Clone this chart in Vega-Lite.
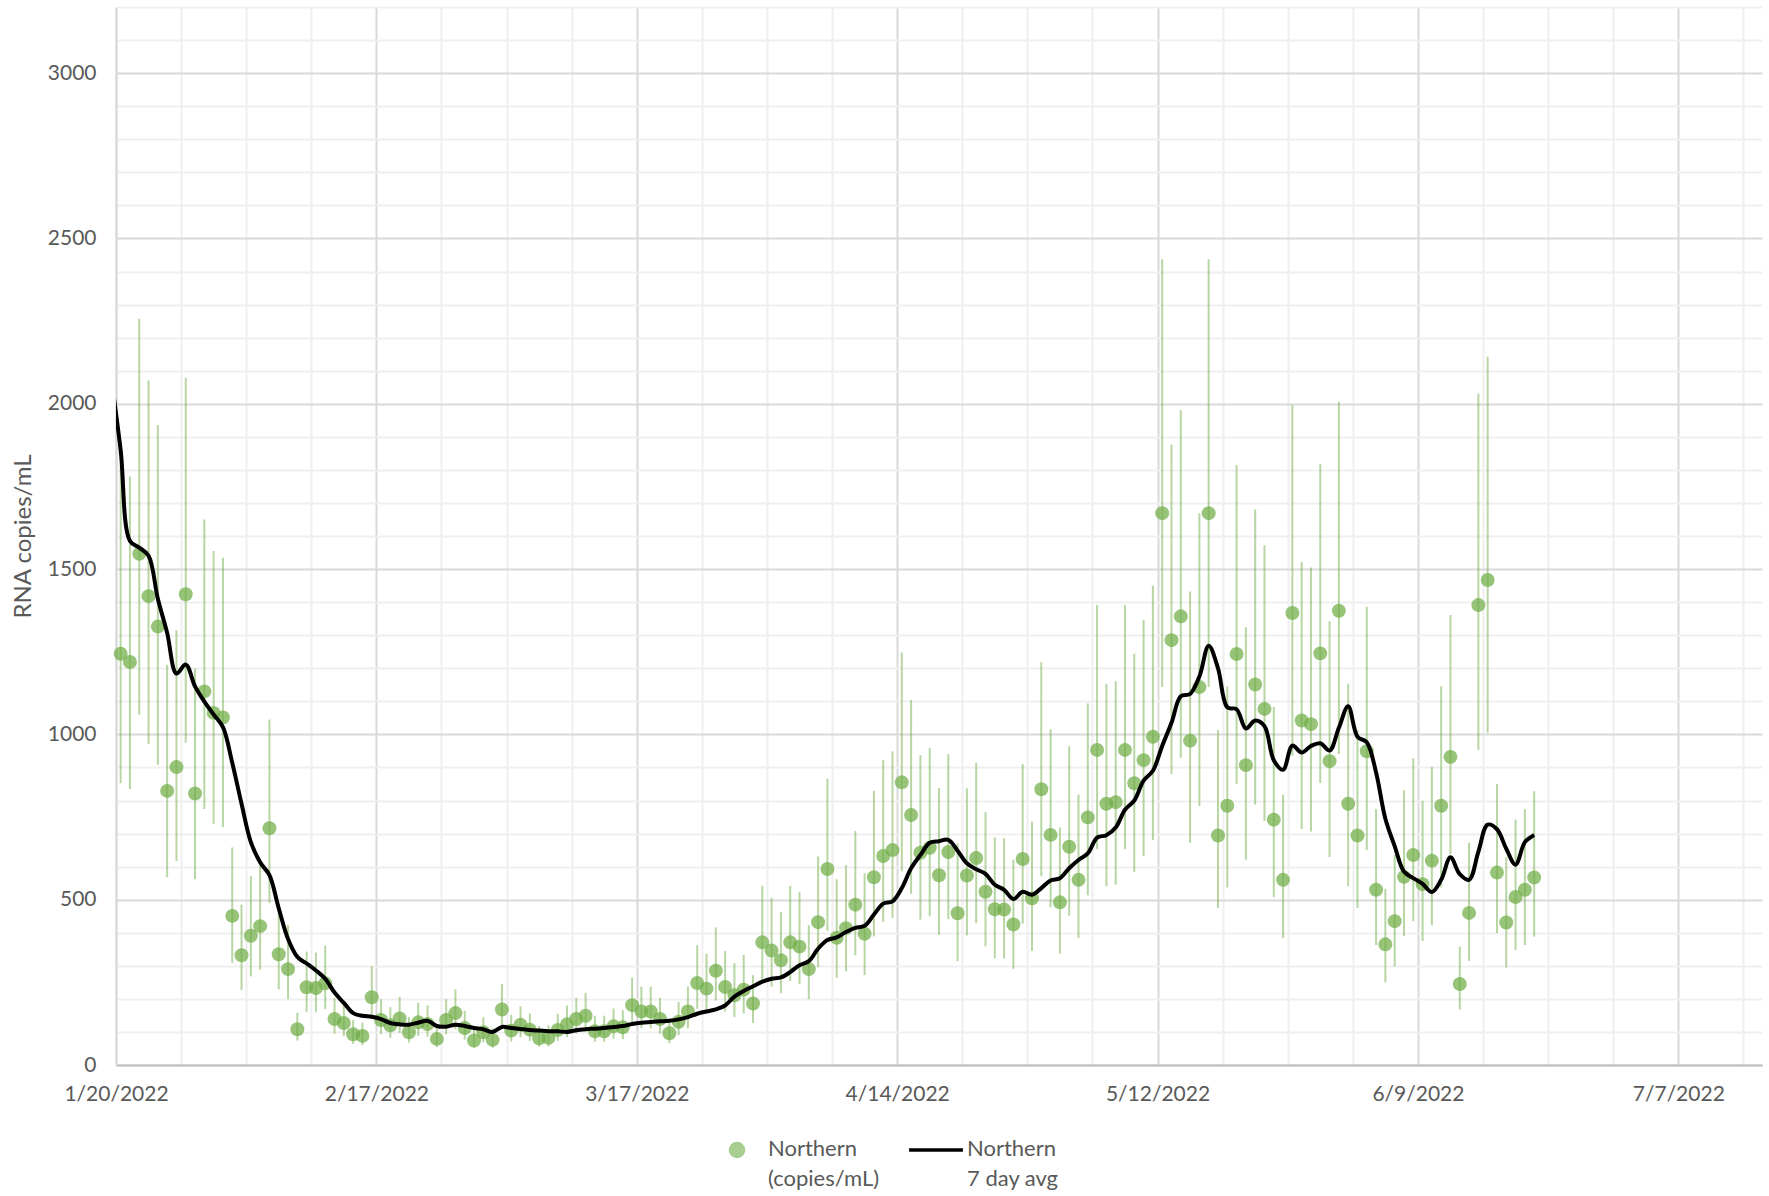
{
  "$schema": "https://vega.github.io/schema/vega-lite/v6.json",
  "width": 1646,
  "height": 1058,
  "autosize": "none",
  "padding": {"left": 116, "top": 7, "right": 7, "bottom": 131},
  "background": "white",
  "config": {"view": {"stroke": null}, "font": "Lato"},
  "data": {"values": [
    {"d":"2022-01-19T12:00","a":2075},
    {"d":"2022-01-20T12:00","v":1244,"lo":852,"hi":1816,"a":1860},
    {"d":"2022-01-21T12:00","v":1219,"lo":835,"hi":1780,"a":1585},
    {"d":"2022-01-22T12:00","v":1546,"lo":1059,"hi":2257,"a":1565},
    {"d":"2022-01-23T12:00","v":1418,"lo":971,"hi":2070,"a":1540},
    {"d":"2022-01-24T12:00","v":1326,"lo":908,"hi":1936,"a":1410},
    {"d":"2022-01-25T12:00","v":829,"lo":568,"hi":1210,"a":1307},
    {"d":"2022-01-26T12:00","v":901,"lo":617,"hi":1315,"a":1184},
    {"d":"2022-01-27T12:00","v":1424,"lo":975,"hi":2079,"a":1211},
    {"d":"2022-01-28T12:00","v":821,"lo":562,"hi":1199,"a":1145},
    {"d":"2022-01-29T12:00","v":1130,"lo":774,"hi":1650,"a":1099},
    {"d":"2022-01-30T12:00","v":1065,"lo":729,"hi":1555,"a":1060},
    {"d":"2022-01-31T12:00","v":1051,"lo":720,"hi":1534,"a":1022},
    {"d":"2022-02-01T12:00","v":451,"lo":309,"hi":658,"a":914},
    {"d":"2022-02-02T12:00","v":332,"lo":227,"hi":485,"a":790},
    {"d":"2022-02-03T12:00","v":391,"lo":268,"hi":571,"a":674},
    {"d":"2022-02-04T12:00","v":420,"lo":288,"hi":613,"a":613},
    {"d":"2022-02-05T12:00","v":716,"lo":490,"hi":1045,"a":574},
    {"d":"2022-02-06T12:00","v":335,"lo":229,"hi":489,"a":474},
    {"d":"2022-02-07T12:00","v":290,"lo":199,"hi":423,"a":381},
    {"d":"2022-02-08T12:00","v":108,"lo":74,"hi":158,"a":327},
    {"d":"2022-02-09T12:00","v":235,"lo":161,"hi":343,"a":307},
    {"d":"2022-02-10T12:00","v":233,"lo":160,"hi":340,"a":286},
    {"d":"2022-02-11T12:00","v":247,"lo":169,"hi":361,"a":261},
    {"d":"2022-02-12T12:00","v":139,"lo":95,"hi":203,"a":219},
    {"d":"2022-02-13T12:00","v":127,"lo":87,"hi":185,"a":188},
    {"d":"2022-02-14T12:00","v":93,"lo":64,"hi":136,"a":157},
    {"d":"2022-02-15T12:00","v":88,"lo":60,"hi":128,"a":149},
    {"d":"2022-02-16T12:00","v":205,"lo":140,"hi":299,"a":146},
    {"d":"2022-02-17T12:00","v":136,"lo":93,"hi":199,"a":139},
    {"d":"2022-02-18T12:00","v":120,"lo":82,"hi":175,"a":127},
    {"d":"2022-02-19T12:00","v":141,"lo":97,"hi":206,"a":123},
    {"d":"2022-02-20T12:00","v":99,"lo":68,"hi":145,"a":122},
    {"d":"2022-02-21T12:00","v":129,"lo":88,"hi":188,"a":128},
    {"d":"2022-02-22T12:00","v":124,"lo":85,"hi":181,"a":134},
    {"d":"2022-02-23T12:00","v":79,"lo":54,"hi":115,"a":118},
    {"d":"2022-02-24T12:00","v":136,"lo":93,"hi":199,"a":116},
    {"d":"2022-02-25T12:00","v":157,"lo":108,"hi":229,"a":122},
    {"d":"2022-02-26T12:00","v":112,"lo":77,"hi":164,"a":118},
    {"d":"2022-02-27T12:00","v":74,"lo":51,"hi":108,"a":112},
    {"d":"2022-02-28T12:00","v":99,"lo":68,"hi":145,"a":108},
    {"d":"2022-03-01T12:00","v":76,"lo":52,"hi":111,"a":100},
    {"d":"2022-03-02T12:00","v":168,"lo":115,"hi":245,"a":115},
    {"d":"2022-03-03T12:00","v":104,"lo":71,"hi":152,"a":112},
    {"d":"2022-03-04T12:00","v":122,"lo":84,"hi":178,"a":109},
    {"d":"2022-03-05T12:00","v":107,"lo":73,"hi":156,"a":106},
    {"d":"2022-03-06T12:00","v":81,"lo":55,"hi":118,"a":104},
    {"d":"2022-03-07T12:00","v":82,"lo":56,"hi":120,"a":102},
    {"d":"2022-03-08T12:00","v":106,"lo":73,"hi":155,"a":102},
    {"d":"2022-03-09T12:00","v":123,"lo":84,"hi":180,"a":100},
    {"d":"2022-03-10T12:00","v":139,"lo":95,"hi":203,"a":105},
    {"d":"2022-03-11T12:00","v":149,"lo":102,"hi":218,"a":108},
    {"d":"2022-03-12T12:00","v":102,"lo":70,"hi":149,"a":110},
    {"d":"2022-03-13T12:00","v":102,"lo":70,"hi":149,"a":112},
    {"d":"2022-03-14T12:00","v":117,"lo":80,"hi":171,"a":115},
    {"d":"2022-03-15T12:00","v":114,"lo":78,"hi":166,"a":118},
    {"d":"2022-03-16T12:00","v":181,"lo":124,"hi":264,"a":124},
    {"d":"2022-03-17T12:00","v":162,"lo":111,"hi":237,"a":128},
    {"d":"2022-03-18T12:00","v":162,"lo":111,"hi":237,"a":130},
    {"d":"2022-03-19T12:00","v":139,"lo":95,"hi":203,"a":132},
    {"d":"2022-03-20T12:00","v":96,"lo":66,"hi":140,"a":134},
    {"d":"2022-03-21T12:00","v":131,"lo":90,"hi":191,"a":138},
    {"d":"2022-03-22T12:00","v":162,"lo":111,"hi":237,"a":145},
    {"d":"2022-03-23T12:00","v":248,"lo":170,"hi":362,"a":155},
    {"d":"2022-03-24T12:00","v":231,"lo":158,"hi":337,"a":162},
    {"d":"2022-03-25T12:00","v":285,"lo":195,"hi":416,"a":168},
    {"d":"2022-03-26T12:00","v":236,"lo":162,"hi":345,"a":180},
    {"d":"2022-03-27T12:00","v":211,"lo":145,"hi":308,"a":207},
    {"d":"2022-03-28T12:00","v":228,"lo":156,"hi":333,"a":224},
    {"d":"2022-03-29T12:00","v":186,"lo":127,"hi":272,"a":238},
    {"d":"2022-03-30T12:00","v":371,"lo":254,"hi":542,"a":252},
    {"d":"2022-03-31T12:00","v":346,"lo":237,"hi":505,"a":261},
    {"d":"2022-04-01T12:00","v":317,"lo":217,"hi":463,"a":265},
    {"d":"2022-04-02T12:00","v":371,"lo":254,"hi":542,"a":281},
    {"d":"2022-04-03T12:00","v":358,"lo":245,"hi":523,"a":302},
    {"d":"2022-04-04T12:00","v":290,"lo":199,"hi":423,"a":314},
    {"d":"2022-04-05T12:00","v":432,"lo":296,"hi":631,"a":352},
    {"d":"2022-04-06T12:00","v":593,"lo":406,"hi":866,"a":378},
    {"d":"2022-04-07T12:00","v":385,"lo":264,"hi":562,"a":386},
    {"d":"2022-04-08T12:00","v":414,"lo":284,"hi":604,"a":402},
    {"d":"2022-04-09T12:00","v":485,"lo":332,"hi":708,"a":415},
    {"d":"2022-04-10T12:00","v":397,"lo":272,"hi":580,"a":421},
    {"d":"2022-04-11T12:00","v":568,"lo":389,"hi":829,"a":455},
    {"d":"2022-04-12T12:00","v":632,"lo":433,"hi":923,"a":488},
    {"d":"2022-04-13T12:00","v":650,"lo":445,"hi":949,"a":495},
    {"d":"2022-04-14T12:00","v":855,"lo":586,"hi":1248,"a":535},
    {"d":"2022-04-15T12:00","v":756,"lo":518,"hi":1104,"a":595},
    {"d":"2022-04-16T12:00","v":642,"lo":440,"hi":937,"a":635},
    {"d":"2022-04-17T12:00","v":657,"lo":450,"hi":959,"a":672},
    {"d":"2022-04-18T12:00","v":574,"lo":393,"hi":838,"a":677},
    {"d":"2022-04-19T12:00","v":644,"lo":441,"hi":940,"a":681},
    {"d":"2022-04-20T12:00","v":459,"lo":314,"hi":670,"a":648},
    {"d":"2022-04-21T12:00","v":573,"lo":392,"hi":837,"a":610},
    {"d":"2022-04-22T12:00","v":626,"lo":429,"hi":914,"a":592},
    {"d":"2022-04-23T12:00","v":524,"lo":359,"hi":765,"a":578},
    {"d":"2022-04-24T12:00","v":471,"lo":323,"hi":688,"a":545},
    {"d":"2022-04-25T12:00","v":470,"lo":322,"hi":686,"a":530},
    {"d":"2022-04-26T12:00","v":425,"lo":291,"hi":621,"a":502},
    {"d":"2022-04-27T12:00","v":623,"lo":427,"hi":910,"a":524},
    {"d":"2022-04-28T12:00","v":504,"lo":345,"hi":736,"a":515},
    {"d":"2022-04-29T12:00","v":834,"lo":571,"hi":1218,"a":535},
    {"d":"2022-04-30T12:00","v":696,"lo":477,"hi":1016,"a":558},
    {"d":"2022-05-01T12:00","v":492,"lo":337,"hi":718,"a":565},
    {"d":"2022-05-02T12:00","v":660,"lo":452,"hi":964,"a":595},
    {"d":"2022-05-03T12:00","v":560,"lo":384,"hi":818,"a":620},
    {"d":"2022-05-04T12:00","v":749,"lo":513,"hi":1094,"a":640},
    {"d":"2022-05-05T12:00","v":953,"lo":653,"hi":1391,"a":688},
    {"d":"2022-05-06T12:00","v":790,"lo":541,"hi":1153,"a":695},
    {"d":"2022-05-07T12:00","v":795,"lo":545,"hi":1161,"a":718},
    {"d":"2022-05-08T12:00","v":953,"lo":653,"hi":1391,"a":772},
    {"d":"2022-05-09T12:00","v":852,"lo":584,"hi":1244,"a":800},
    {"d":"2022-05-10T12:00","v":922,"lo":632,"hi":1346,"a":860},
    {"d":"2022-05-11T12:00","v":993,"lo":680,"hi":1450,"a":890},
    {"d":"2022-05-12T12:00","v":1669,"lo":1143,"hi":2437,"a":965},
    {"d":"2022-05-13T12:00","v":1285,"lo":880,"hi":1876,"a":1035},
    {"d":"2022-05-14T12:00","v":1357,"lo":929,"hi":1981,"a":1115},
    {"d":"2022-05-15T12:00","v":981,"lo":672,"hi":1432,"a":1122},
    {"d":"2022-05-16T12:00","v":1143,"lo":783,"hi":1669,"a":1175},
    {"d":"2022-05-17T12:00","v":1669,"lo":1143,"hi":2437,"a":1268},
    {"d":"2022-05-18T12:00","v":694,"lo":475,"hi":1013,"a":1200},
    {"d":"2022-05-19T12:00","v":784,"lo":537,"hi":1145,"a":1082},
    {"d":"2022-05-20T12:00","v":1243,"lo":851,"hi":1815,"a":1076},
    {"d":"2022-05-21T12:00","v":907,"lo":621,"hi":1324,"a":1018},
    {"d":"2022-05-22T12:00","v":1151,"lo":788,"hi":1680,"a":1042},
    {"d":"2022-05-23T12:00","v":1077,"lo":738,"hi":1572,"a":1025},
    {"d":"2022-05-24T12:00","v":742,"lo":508,"hi":1083,"a":922},
    {"d":"2022-05-25T12:00","v":560,"lo":384,"hi":818,"a":893},
    {"d":"2022-05-26T12:00","v":1367,"lo":936,"hi":1996,"a":966},
    {"d":"2022-05-27T12:00","v":1042,"lo":714,"hi":1521,"a":945},
    {"d":"2022-05-28T12:00","v":1031,"lo":706,"hi":1505,"a":965},
    {"d":"2022-05-29T12:00","v":1245,"lo":853,"hi":1818,"a":973},
    {"d":"2022-05-30T12:00","v":919,"lo":629,"hi":1342,"a":951},
    {"d":"2022-05-31T12:00","v":1374,"lo":941,"hi":2006,"a":1020},
    {"d":"2022-06-01T12:00","v":790,"lo":541,"hi":1153,"a":1085},
    {"d":"2022-06-02T12:00","v":694,"lo":475,"hi":1013,"a":993},
    {"d":"2022-06-03T12:00","v":949,"lo":650,"hi":1386,"a":976},
    {"d":"2022-06-04T12:00","v":530,"lo":363,"hi":774,"a":885},
    {"d":"2022-06-05T12:00","v":365,"lo":250,"hi":533,"a":745},
    {"d":"2022-06-06T12:00","v":435,"lo":298,"hi":635,"a":662},
    {"d":"2022-06-07T12:00","v":569,"lo":390,"hi":831,"a":585},
    {"d":"2022-06-08T12:00","v":635,"lo":435,"hi":927,"a":565},
    {"d":"2022-06-09T12:00","v":547,"lo":375,"hi":799,"a":548},
    {"d":"2022-06-10T12:00","v":618,"lo":423,"hi":902,"a":523},
    {"d":"2022-06-11T12:00","v":784,"lo":537,"hi":1145,"a":560},
    {"d":"2022-06-12T12:00","v":932,"lo":638,"hi":1361,"a":628},
    {"d":"2022-06-13T12:00","v":245,"lo":168,"hi":358,"a":577},
    {"d":"2022-06-14T12:00","v":460,"lo":315,"hi":672,"a":560},
    {"d":"2022-06-15T12:00","v":1391,"lo":953,"hi":2031,"a":645},
    {"d":"2022-06-16T12:00","v":1467,"lo":1005,"hi":2142,"a":727},
    {"d":"2022-06-17T12:00","v":582,"lo":399,"hi":850,"a":713},
    {"d":"2022-06-18T12:00","v":431,"lo":295,"hi":629,"a":654},
    {"d":"2022-06-19T12:00","v":508,"lo":348,"hi":742,"a":606},
    {"d":"2022-06-20T12:00","v":530,"lo":363,"hi":774,"a":674},
    {"d":"2022-06-21T12:00","v":567,"lo":388,"hi":828,"a":696}
  ]},
  "encoding": {
    "x": {
      "field": "d", "type": "temporal",
      "scale": {"domain": [{"year": 2022, "month": 1, "date": 20}, {"year": 2022, "month": 7, "date": 16}]},
      "axis": {
        "title": null,
        "values": [
          {"year":2022,"month":1,"date":20},{"year":2022,"month":1,"date":27},
          {"year":2022,"month":2,"date":3},{"year":2022,"month":2,"date":10},{"year":2022,"month":2,"date":17},{"year":2022,"month":2,"date":24},
          {"year":2022,"month":3,"date":3},{"year":2022,"month":3,"date":10},{"year":2022,"month":3,"date":17},{"year":2022,"month":3,"date":24},{"year":2022,"month":3,"date":31},
          {"year":2022,"month":4,"date":7},{"year":2022,"month":4,"date":14},{"year":2022,"month":4,"date":21},{"year":2022,"month":4,"date":28},
          {"year":2022,"month":5,"date":5},{"year":2022,"month":5,"date":12},{"year":2022,"month":5,"date":19},{"year":2022,"month":5,"date":26},
          {"year":2022,"month":6,"date":2},{"year":2022,"month":6,"date":9},{"year":2022,"month":6,"date":16},{"year":2022,"month":6,"date":23},{"year":2022,"month":6,"date":30},
          {"year":2022,"month":7,"date":7},{"year":2022,"month":7,"date":14}
        ],
        "labelExpr": "round((datum.value - datetime(2022,0,20)) / 864e5) % 28 === 0 ? timeFormat(datum.value, '%-m/%-d/%Y') : ''",
        "gridColor": {"condition": {"test": "round((datum.value - datetime(2022,0,20)) / 864e5) % 28 === 0", "value": "#d9d9d9"}, "value": "#efefef"},
        "gridWidth": 2,
        "ticks": false,
        "domainColor": "#bfbfbf",
        "domainWidth": 2,
        "labelFont": "Lato",
        "labelFontSize": 21,
        "labelColor": "#595959",
        "labelPadding": 18,
        "labelOverlap": false,
        "labelFlush": false,
        "labelBound": false
      }
    }
  },
  "layer": [
    {
      "mark": {"type": "rule", "color": "#70AD47", "opacity": 0.5, "strokeWidth": 2},
      "encoding": {
        "y": {
          "field": "lo", "type": "quantitative",
          "scale": {"domain": [0, 3200], "nice": false},
          "axis": {
            "title": "RNA copies/mL",
            "values": [0,100,200,300,400,500,600,700,800,900,1000,1100,1200,1300,1400,1500,1600,1700,1800,1900,2000,2100,2200,2300,2400,2500,2600,2700,2800,2900,3000,3100,3200],
            "format": "d",
            "labelExpr": "datum.value % 500 === 0 ? datum.label : ''",
            "gridColor": {"condition": {"test": "datum.value % 500 === 0", "value": "#d9d9d9"}, "value": "#efefef"},
            "gridWidth": 2, "ticks": false, "domainColor": "#d9d9d9", "domainWidth": 2,
            "labelFont": "Lato", "labelFontSize": 21, "labelColor": "#595959", "labelPadding": 20, "labelOverlap": false,
            "titleFont": "Lato", "titleFontSize": 24, "titleFontWeight": "normal", "titleColor": "#595959", "titlePadding": 12
          }
        },
        "y2": {"field": "hi"}
      }
    },
    {
      "mark": {"type": "point", "filled": true, "size": 195, "opacity": 0.72},
      "encoding": {
        "y": {
          "field": "v", "type": "quantitative",
          "scale": {"domain": [0, 3200], "nice": false},
          "axis": {
            "title": "RNA copies/mL",
            "values": [0,100,200,300,400,500,600,700,800,900,1000,1100,1200,1300,1400,1500,1600,1700,1800,1900,2000,2100,2200,2300,2400,2500,2600,2700,2800,2900,3000,3100,3200],
            "format": "d",
            "labelExpr": "datum.value % 500 === 0 ? datum.label : ''",
            "gridColor": {"condition": {"test": "datum.value % 500 === 0", "value": "#d9d9d9"}, "value": "#efefef"},
            "gridWidth": 2, "ticks": false, "domainColor": "#d9d9d9", "domainWidth": 2,
            "labelFont": "Lato", "labelFontSize": 21, "labelColor": "#595959", "labelPadding": 20, "labelOverlap": false,
            "titleFont": "Lato", "titleFontSize": 24, "titleFontWeight": "normal", "titleColor": "#595959", "titlePadding": 12
          }
        },
        "color": {
          "datum": "Northern (copies/mL)",
          "type": "nominal",
          "scale": {"domain": ["Northern (copies/mL)", "Northern 7 day avg"], "range": ["#70AD47", "#000000"]},
          "legend": {
            "title": null, "orient": "none", "legendX": 610, "legendY": 1132, "direction": "horizontal",
            "symbolType": "circle", "symbolSize": 170, "labelOffset": 20, "columnPadding": 22,
            "labelFont": "Lato", "labelFontSize": 22, "labelColor": "#595959", "labelBaseline": "top",
            "labelExpr": "datum.label === 'Northern (copies/mL)' ? ['Northern', '(copies/mL)'] : ['Northern', '7 day avg']",
            "encode": {
              "labels": {"update": {"lineHeight": {"value": 30}, "dy": {"value": -11}}},
              "symbols": {"update": {
                "shape": {"signal": "datum.value === 'Northern 7 day avg' ? 'stroke' : 'circle'"},
                "size": {"signal": "datum.value === 'Northern 7 day avg' ? 2900 : 170"},
                "fill": {"signal": "datum.value === 'Northern 7 day avg' ? 'transparent' : '#70AD47'"},
                "stroke": {"signal": "datum.value === 'Northern 7 day avg' ? '#000000' : 'transparent'"},
                "strokeWidth": {"value": 3.5},
                "opacity": {"signal": "datum.value === 'Northern 7 day avg' ? 1 : 0.6"}
              }}
            }
          }
        }
      }
    },
    {
      "mark": {"type": "line", "color": "#000000", "strokeWidth": 4, "interpolate": "catmull-rom", "clip": true},
      "encoding": {
        "y": {
          "field": "a", "type": "quantitative",
          "scale": {"domain": [0, 3200], "nice": false},
          "axis": {
            "title": "RNA copies/mL",
            "values": [0,100,200,300,400,500,600,700,800,900,1000,1100,1200,1300,1400,1500,1600,1700,1800,1900,2000,2100,2200,2300,2400,2500,2600,2700,2800,2900,3000,3100,3200],
            "format": "d",
            "labelExpr": "datum.value % 500 === 0 ? datum.label : ''",
            "gridColor": {"condition": {"test": "datum.value % 500 === 0", "value": "#d9d9d9"}, "value": "#efefef"},
            "gridWidth": 2, "ticks": false, "domainColor": "#d9d9d9", "domainWidth": 2,
            "labelFont": "Lato", "labelFontSize": 21, "labelColor": "#595959", "labelPadding": 20, "labelOverlap": false,
            "titleFont": "Lato", "titleFontSize": 24, "titleFontWeight": "normal", "titleColor": "#595959", "titlePadding": 12
          }
        },
        "color": {
          "datum": "Northern 7 day avg",
          "type": "nominal",
          "legend": {
            "title": null, "orient": "none", "legendX": 610, "legendY": 1132, "direction": "horizontal",
            "symbolType": "circle", "symbolSize": 170, "labelOffset": 20, "columnPadding": 22,
            "labelFont": "Lato", "labelFontSize": 22, "labelColor": "#595959", "labelBaseline": "top",
            "labelExpr": "datum.label === 'Northern (copies/mL)' ? ['Northern', '(copies/mL)'] : ['Northern', '7 day avg']",
            "encode": {
              "labels": {"update": {"lineHeight": {"value": 30}, "dy": {"value": -11}}},
              "symbols": {"update": {
                "shape": {"signal": "datum.value === 'Northern 7 day avg' ? 'stroke' : 'circle'"},
                "size": {"signal": "datum.value === 'Northern 7 day avg' ? 2900 : 170"},
                "fill": {"signal": "datum.value === 'Northern 7 day avg' ? 'transparent' : '#70AD47'"},
                "stroke": {"signal": "datum.value === 'Northern 7 day avg' ? '#000000' : 'transparent'"},
                "strokeWidth": {"value": 3.5},
                "opacity": {"signal": "datum.value === 'Northern 7 day avg' ? 1 : 0.6"}
              }}
            }
          }
        }
      }
    }
  ]
}
